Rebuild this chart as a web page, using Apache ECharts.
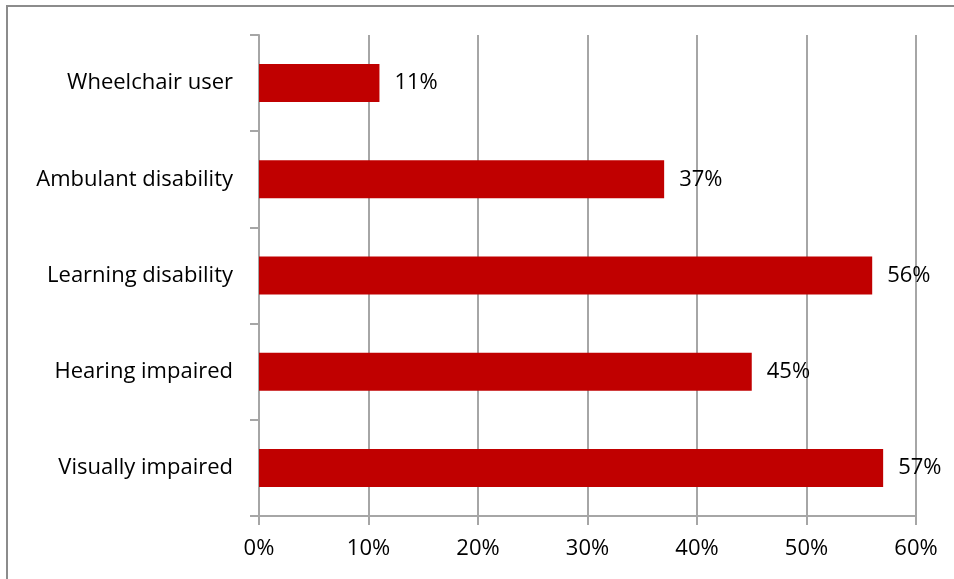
<!DOCTYPE html>
<html><head><meta charset="utf-8">
<script src="https://cdn.jsdelivr.net/npm/echarts@6/dist/echarts.min.js"></script>
<style>html,body{margin:0;padding:0;background:#fff}#c{width:954px;height:579px;position:relative}
#frame{position:absolute;left:6px;top:5px;width:960px;height:600px;border-left:2px solid #8c8c8c;border-top:2px solid #8c8c8c;pointer-events:none}</style>
</head><body><div id="c"></div><div id="frame"></div>
<script>
const categories = ['Visually impaired','Hearing impaired','Learning disability','Ambulant disability','Wheelchair user'];
const values = [57, 45, 56, 37, 11];
const xTicks = [0,10,20,30,40,50,60];
const font = '"Open Sans", sans-serif';
const chart = echarts.init(document.getElementById('c'));
chart.setOption({
  animation:false,
  grid:{left:259,right:38,top:35,bottom:63,containLabel:false},
  xAxis:{type:'value',min:xTicks[0],max:xTicks[xTicks.length-1],interval:10,
    axisLine:{show:true,lineStyle:{color:'#a6a6a6',width:2}},
    axisTick:{show:true,length:9,lineStyle:{color:'#a6a6a6',width:2}},
    axisLabel:{formatter:v=>v+'%',color:'#000',fontSize:22,fontFamily:font,margin:22},
    splitLine:{show:true,lineStyle:{color:'#a6a6a6',width:2}}},
  yAxis:{type:'category',data:categories,
    axisLine:{show:true,lineStyle:{color:'#a6a6a6',width:2}},
    axisTick:{show:true,length:9,lineStyle:{color:'#a6a6a6',width:2}},
    axisLabel:{color:'#000',fontSize:22,fontFamily:font,margin:26},
    splitLine:{show:false}},
  series:[{type:'bar',data:values,barWidth:38,itemStyle:{color:'#c00000'},
    label:{show:true,position:'right',distance:15,formatter:p=>p.value+'%',color:'#000',fontSize:22,fontFamily:font}}]
});
</script></body></html>
